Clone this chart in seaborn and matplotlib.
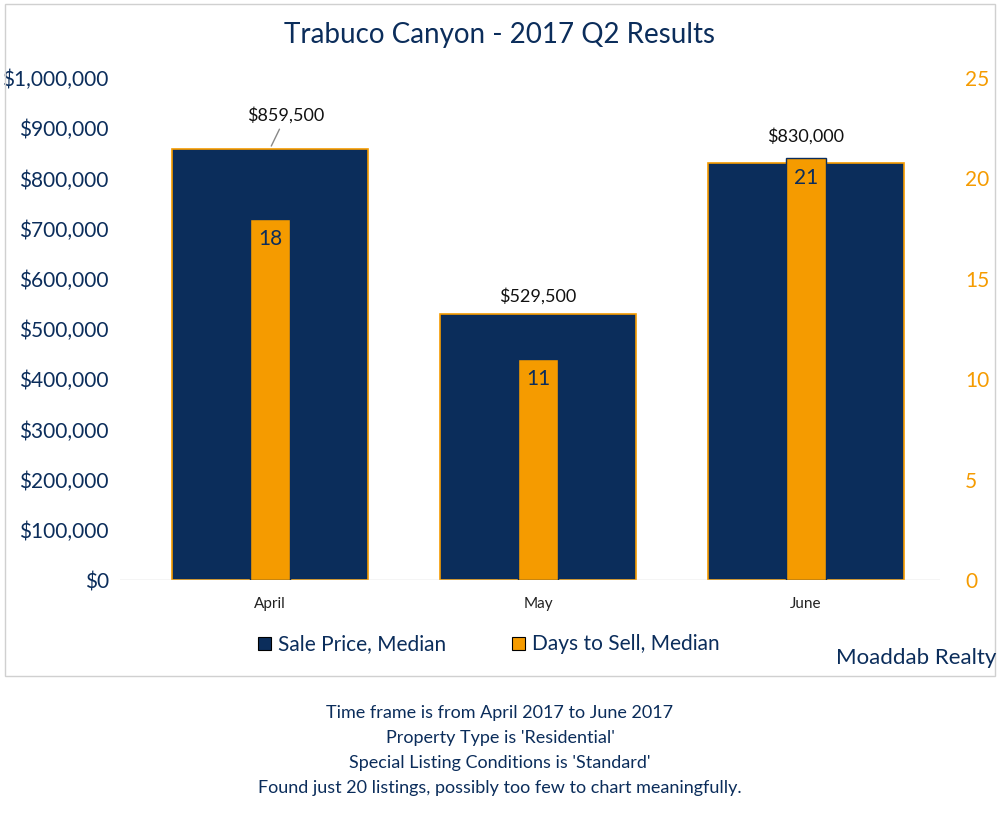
import matplotlib
matplotlib.use("Agg")
import matplotlib.pyplot as plt
import seaborn as sns
import pandas as pd
from matplotlib.patches import Rectangle

months = ["April", "May", "June"]
price = [859500, 529500, 830000]
days = [18, 11, 21]
price_labels = ["$859,500", "$529,500", "$830,000"]
notes = ["Time frame is from April 2017 to June 2017",
         "Property Type is 'Residential'",
         "Special Listing Conditions is 'Standard'",
         "Found just 20 listings, possibly too few to chart meaningfully."]

NAVY = "#0B2D5B"
ORANGE = "#F59B00"
plt.rcParams["font.family"] = "Lato"

df = pd.DataFrame({"month": months, "price": price, "days": days})
fig = plt.figure(figsize=(10, 8.15), dpi=100)
fig.add_artist(Rectangle((0.005, 0.17), 0.99, 0.825, transform=fig.transFigure,
                         fill=False, edgecolor="#D0D0D0", lw=1))
ax = fig.add_axes([0.12, 0.2883, 0.82, 0.616])
sns.barplot(data=df, x="month", y="price", color=NAVY, width=0.73, ax=ax,
            edgecolor=ORANGE, linewidth=1.2, saturation=1)
ax2 = ax.twinx()
sns.barplot(data=df, x="month", y="days", color=ORANGE, width=0.15, ax=ax2,
            edgecolor=NAVY, linewidth=1, saturation=1)
ax.set_xlim(-0.56, 2.5)
ax.set_ylim(0, 1000000)
ax2.set_ylim(0, 25)
ax.set_yticks(range(0, 1000001, 100000))
ax.set_yticklabels([f"${v:,}" for v in range(0, 1000001, 100000)], fontsize=15, color=NAVY)
ax2.set_yticks(range(0, 26, 5))
ax2.set_yticklabels([str(v) for v in range(0, 26, 5)], fontsize=15, color=ORANGE)
for a in (ax, ax2):
    a.set_xlabel(""); a.set_ylabel("")
    for s in a.spines.values():
        s.set_visible(False)
    a.tick_params(length=0)
ax.tick_params(axis="x", labelsize=11, colors="#222222", pad=12)
ax.tick_params(axis="y", pad=8)
ax2.tick_params(axis="y", pad=18)
ax.axhline(0, color="#D0D0D0", lw=1)

for i, (p, lab) in enumerate(zip(price, price_labels)):
    if i == 0:
        ax.annotate(lab, xy=(i, p), xytext=(i + 0.06, p + 55000), ha="center",
                    fontsize=13, color="#111111",
                    arrowprops=dict(arrowstyle="-", color="#888888", lw=1))
    else:
        ax.text(i, p + 20000 if i == 1 else p + 38000, lab, ha="center", va="bottom",
                fontsize=13, color="#111111")
for i, d in enumerate(days):
    ax2.text(i, d - 0.5, str(d), ha="center", va="top", fontsize=15, color=NAVY)

fig.text(0.5, 0.957, "Trabuco Canyon - 2017 Q2 Results", ha="center", va="center",
         fontsize=20, color=NAVY)
fig.add_artist(Rectangle((0.258, 0.202), 0.013, 0.017, transform=fig.transFigure,
                         facecolor=NAVY, edgecolor="black", lw=0.8))
fig.text(0.278, 0.21, "Sale Price, Median", va="center", fontsize=15, color=NAVY)
fig.add_artist(Rectangle((0.512, 0.202), 0.013, 0.017, transform=fig.transFigure,
                         facecolor=ORANGE, edgecolor="black", lw=0.8))
fig.text(0.532, 0.21, "Days to Sell, Median", va="center", fontsize=15, color=NAVY)
fig.text(0.996, 0.193, "Moaddab Realty", ha="right", va="center", fontsize=16, color=NAVY)

for k, n in enumerate(notes):
    fig.text(0.5, 0.125 - k * 0.0305, n, ha="center", va="center", fontsize=13, color=NAVY)

fig.savefig("out.png", dpi=100)
